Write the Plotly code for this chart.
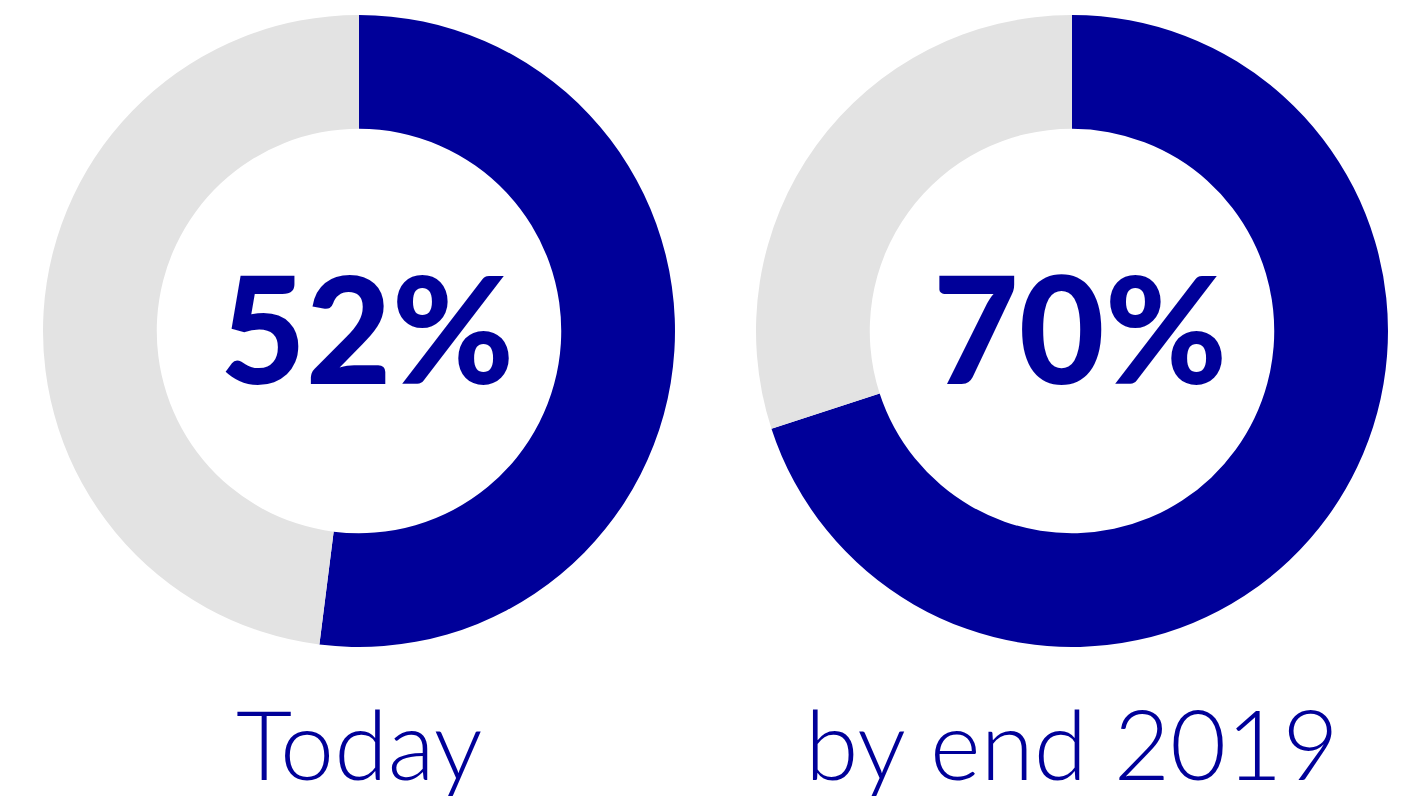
import plotly.graph_objects as go

# Share of progress, today vs. target
labels = ["Done", "Remaining"]
today_values = [52, 48]
target_values = [70, 30]
center_texts = ["52%", "70%"]
captions = ["Today", "by end 2019"]

BLUE = "#000099"
GREY = "#e3e3e3"
W, H = 1414, 796

centers_px = [(359, 331), (1072, 331)]
radius_px = 316

fig = go.Figure()
for (cx, cy), vals in zip(centers_px, [today_values, target_values]):
    x0 = (cx - radius_px) / W
    x1 = (cx + radius_px) / W
    y0 = (H - cy - radius_px) / H
    y1 = (H - cy + radius_px) / H
    fig.add_trace(go.Pie(
        labels=labels,
        values=vals,
        hole=0.64,
        sort=False,
        direction="clockwise",
        rotation=0,
        marker=dict(colors=[BLUE, GREY], line=dict(width=0)),
        textinfo="none",
        hoverinfo="label+percent",
        showlegend=False,
        domain=dict(x=[x0, x1], y=[y0, y1]),
    ))

annotations = []
for (cx, cy), txt, cap in zip(centers_px, center_texts, captions):
    # big percentage, right edge aligned a fixed distance from the ring centre
    annotations.append(dict(
        x=(cx + 157) / W, y=(H - cy + 4) / H, xref="paper", yref="paper",
        text=txt, showarrow=False, xanchor="right", yanchor="middle",
        font=dict(family="Lato", size=148, color=BLUE, weight=900),
    ))
    # caption under each ring; the descenders run to the bottom edge
    annotations.append(dict(
        x=cx / W, y=(H - 742) / H, xref="paper", yref="paper",
        text=cap, showarrow=False, xanchor="center", yanchor="middle",
        font=dict(family="Lato", size=97, color=BLUE, weight=300),
    ))

fig.update_layout(
    width=W, height=H,
    margin=dict(l=0, r=0, t=0, b=0),
    paper_bgcolor="white",
    plot_bgcolor="white",
    annotations=annotations,
)

fig.write_html("out.html")
